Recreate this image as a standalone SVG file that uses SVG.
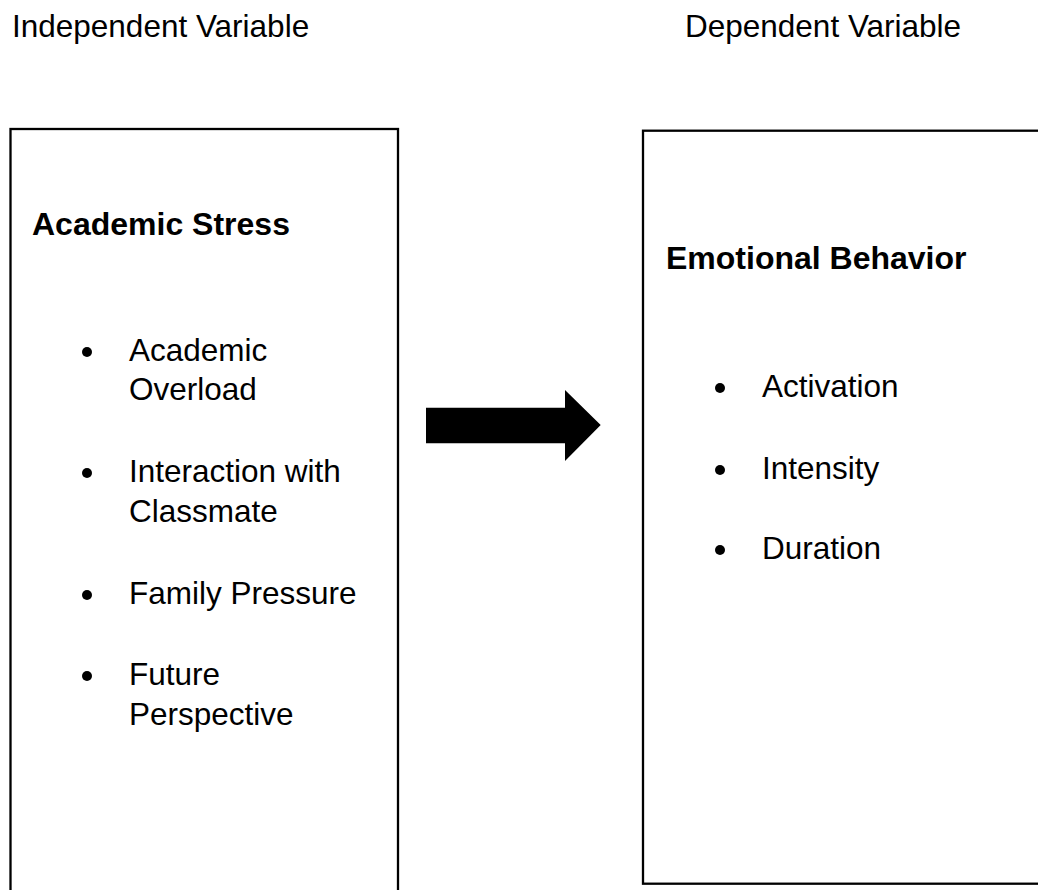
<svg xmlns="http://www.w3.org/2000/svg" width="1038" height="890" viewBox="0 0 1038 890">
<style>
.box{fill:#fff;stroke:#000;stroke-width:2.3}
.hd{font-family:"Liberation Sans",Arial,sans-serif;font-size:31.5px;fill:#000}
.tt{font-family:"Liberation Sans",Arial,sans-serif;font-size:32px;font-weight:bold;fill:#000}
.it{font-family:"Liberation Sans",Arial,sans-serif;font-size:31.5px;fill:#000}
.dot{fill:#000}
</style>
<rect width="1038" height="890" fill="#fff"/>
<text class="hd" x="12" y="37">Independent Variable</text>
<text class="hd" x="685" y="37">Dependent Variable</text>
<g id="node-academic-stress">
<rect class="box" x="10.5" y="129" width="387.5" height="775"/>
<text class="tt" x="32" y="235">Academic Stress</text>
<circle class="dot" cx="87" cy="352" r="5"/>
<text class="it" x="129" y="361">Academic</text>
<text class="it" x="129" y="400">Overload</text>
<circle class="dot" cx="87" cy="473" r="5"/>
<text class="it" x="129" y="482">Interaction with</text>
<text class="it" x="129" y="522">Classmate</text>
<circle class="dot" cx="87" cy="595" r="5"/>
<text class="it" x="129" y="604">Family Pressure</text>
<circle class="dot" cx="87" cy="676" r="5"/>
<text class="it" x="129" y="685">Future</text>
<text class="it" x="129" y="725">Perspective</text>
</g>
<g id="node-emotional-behavior">
<rect class="box" x="643" y="130.7" width="420" height="753"/>
<text class="tt" x="666" y="269">Emotional Behavior</text>
<circle class="dot" cx="720" cy="388" r="5"/>
<text class="it" x="762" y="397">Activation</text>
<circle class="dot" cx="720" cy="470" r="5"/>
<text class="it" x="762" y="479">Intensity</text>
<circle class="dot" cx="720" cy="550" r="5"/>
<text class="it" x="762" y="559">Duration</text>
</g>
<g id="connectors">
<polygon points="426,407.7 565,407.7 565,390 600.7,425 565,461 565,443.3 426,443.3" fill="#000"/>
</g>
</svg>
